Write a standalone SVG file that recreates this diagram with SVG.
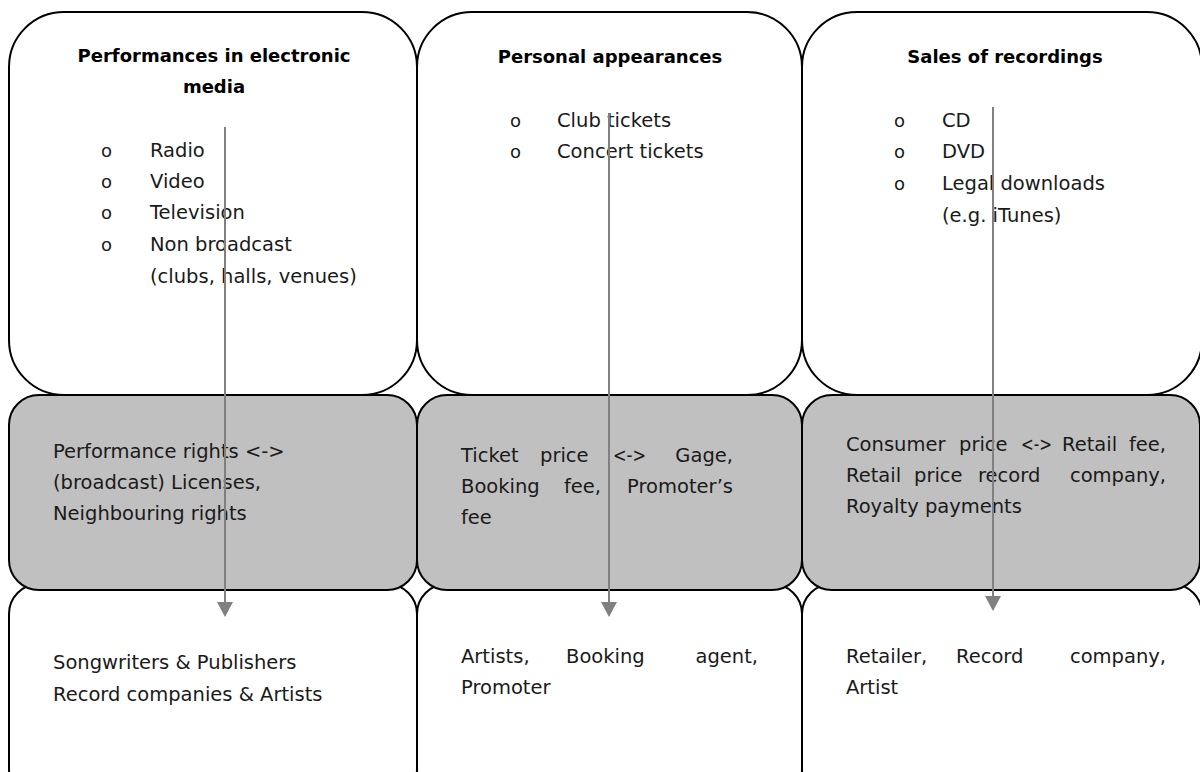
<svg xmlns="http://www.w3.org/2000/svg" width="1200" height="772" viewBox="0 0 1200 772">
<style>
.box{fill:#ffffff;stroke:#000000;stroke-width:2}
.mid{fill:#c0c0c0;stroke:#000000;stroke-width:2}
.t{font-family:"DejaVu Sans","Liberation Sans",sans-serif;font-size:19.5px;fill:#1a1a1a}
.h{font-family:"DejaVu Sans","Liberation Sans",sans-serif;font-size:18px;font-weight:bold;fill:#000000;text-anchor:middle}
.b{font-family:"DejaVu Sans","Liberation Sans",sans-serif;font-size:18px;fill:#1a1a1a}
.arr{stroke:#808080;stroke-width:2;fill:none}
</style>
<defs>
<marker id="ah" markerUnits="userSpaceOnUse" markerWidth="15" markerHeight="16" viewBox="0 -8 15 16" refX="0" refY="0" orient="auto">
<path d="M0,-8 L15,0 L0,8 z" fill="#808080"/>
</marker>
</defs>

<g id="top-electronic">
<rect class="box" x="9" y="12" width="408" height="383" rx="55" ry="55"/>
<text class="h" x="214" y="62">Performances in electronic</text>
<text class="h" x="214" y="93">media</text>
<text class="b" x="101" y="157">o</text><text class="t" x="150" y="157">Radio</text>
<text class="b" x="101" y="188">o</text><text class="t" x="150" y="188">Video</text>
<text class="b" x="101" y="219">o</text><text class="t" x="150" y="219">Television</text>
<text class="b" x="101" y="251">o</text><text class="t" x="150" y="251">Non broadcast</text>
<text class="t" x="150" y="283">(clubs, halls, venues)</text>
</g>

<g id="top-personal">
<rect class="box" x="417" y="12" width="385" height="383" rx="55" ry="55"/>
<text class="h" x="610" y="63">Personal appearances</text>
<text class="b" x="510" y="127">o</text><text class="t" x="557" y="127">Club tickets</text>
<text class="b" x="510" y="158">o</text><text class="t" x="557" y="158">Concert tickets</text>
</g>

<g id="top-sales">
<rect class="box" x="802" y="12" width="400" height="383" rx="55" ry="55"/>
<text class="h" x="1005" y="63">Sales of recordings</text>
<text class="b" x="894" y="127">o</text><text class="t" x="942" y="127">CD</text>
<text class="b" x="894" y="158">o</text><text class="t" x="942" y="158">DVD</text>
<text class="b" x="894" y="190">o</text><text class="t" x="942" y="190">Legal downloads</text>
<text class="t" x="942" y="222">(e.g. iTunes)</text>
</g>

<g id="bottom-electronic">
<rect class="box" x="9" y="584" width="408" height="215" rx="30" ry="30"/>
<text class="t" x="53" y="669">Songwriters &amp; Publishers</text>
<text class="t" x="53" y="701">Record companies &amp; Artists</text>
</g>

<g id="bottom-personal">
<rect class="box" x="417" y="584" width="385" height="215" rx="30" ry="30"/>
<text class="t" y="663"><tspan x="461">Artists,</tspan><tspan x="566">Booking</tspan><tspan x="758" text-anchor="end">agent,</tspan></text>
<text class="t" x="461" y="694">Promoter</text>
</g>

<g id="bottom-sales">
<rect class="box" x="802" y="584" width="400" height="215" rx="30" ry="30"/>
<text class="t" y="663"><tspan x="846">Retailer,</tspan><tspan x="956">Record</tspan><tspan x="1166" text-anchor="end">company,</tspan></text>
<text class="t" x="846" y="694">Artist</text>
</g>

<g id="mid-electronic">
<rect class="mid" x="9" y="395" width="408" height="195" rx="30" ry="30"/>
<text class="t" x="53" y="458">Performance rights &lt;-&gt;</text>
<text class="t" x="53" y="489">(broadcast) Licenses,</text>
<text class="t" x="53" y="520">Neighbouring rights</text>
</g>

<g id="mid-personal">
<rect class="mid" x="417" y="395" width="385" height="195" rx="30" ry="30"/>
<text class="t" y="462"><tspan x="461">Ticket</tspan><tspan x="540">price</tspan><tspan x="613" textLength="33" lengthAdjust="spacingAndGlyphs">&lt;-&gt;</tspan><tspan x="733" text-anchor="end">Gage,</tspan></text>
<text class="t" y="493"><tspan x="461">Booking</tspan><tspan x="564">fee,</tspan><tspan x="733" text-anchor="end">Promoter’s</tspan></text>
<text class="t" x="461" y="524">fee</text>
</g>

<g id="mid-sales">
<rect class="mid" x="802" y="395" width="398" height="195" rx="30" ry="30"/>
<text class="t" y="451"><tspan x="846">Consumer</tspan><tspan x="959">price</tspan><tspan x="1021" textLength="31" lengthAdjust="spacingAndGlyphs">&lt;-&gt;</tspan><tspan x="1062">Retail</tspan><tspan x="1166" text-anchor="end">fee,</tspan></text>
<text class="t" y="482"><tspan x="846">Retail</tspan><tspan x="914">price</tspan><tspan x="978">record</tspan><tspan x="1166" text-anchor="end">company,</tspan></text>
<text class="t" x="846" y="513">Royalty payments</text>
</g>

<g id="connectors">
<line class="arr" x1="225" y1="127" x2="225" y2="602" marker-end="url(#ah)"/>
<line class="arr" x1="609" y1="113" x2="609" y2="602" marker-end="url(#ah)"/>
<line class="arr" x1="993" y1="107" x2="993" y2="596" marker-end="url(#ah)"/>
</g>
</svg>
